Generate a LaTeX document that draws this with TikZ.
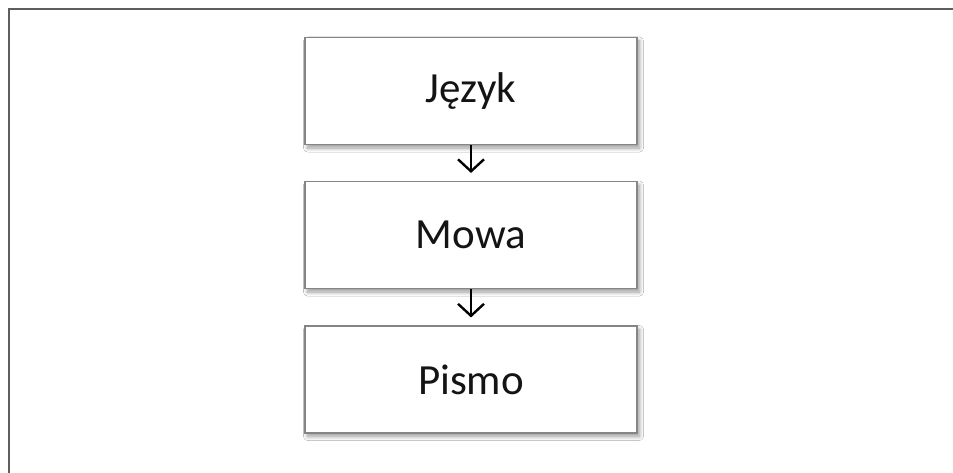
\documentclass[tikz,border=0pt]{standalone}
\usepackage{fontspec}
\setmainfont{Carlito}
\usetikzlibrary{arrows.meta,shadows.blur}
\definecolor{framegray}{HTML}{5E5E5E}
\definecolor{boxgray}{HTML}{858585}
\definecolor{inktext}{HTML}{141414}
\tikzset{
  x=1pt, y=1pt,
  stagebox/.style={draw=boxgray, line width=1.1pt, fill=white,
    minimum width=332pt, minimum height=107pt, inner sep=0pt,
    font=\fontsize{43}{48}\selectfont, text=inktext,
    blur shadow={shadow xshift=2.5pt, shadow yshift=-3.5pt,
      shadow blur radius=4pt, shadow blur steps=10, shadow opacity=40}},
  flowarrow/.style={line width=2.4pt, black, shorten >=8pt,
    -{Straight Barb[length=12pt, width=26pt]}},
  frameline/.style={framegray, line width=2pt}
}
\begin{document}
\begin{tikzpicture}
  \useasboundingbox (0,0) rectangle (953,-473);
  \fill[white] (0,0) rectangle (953,-473);
  % frame: top and left edges
  \coordinate (ftl) at (9,-9.5);
  \coordinate (ftr) at (953,-9.5);
  \coordinate (fbl) at (9,-473);
  \draw[frameline] (fbl) -- (ftl) -- (ftr);
  % stages
  \node[stagebox] (jezyk) at (471,-91) {Język};
  \node[stagebox] (mowa)  at (471,-235) {Mowa};
  \node[stagebox] (pismo) at (471,-379.5) {Pismo};
  % arrows
  \draw[flowarrow] (jezyk.south) -- (mowa.north);
  \draw[flowarrow] (mowa.south) -- (pismo.north);
\end{tikzpicture}
\end{document}
